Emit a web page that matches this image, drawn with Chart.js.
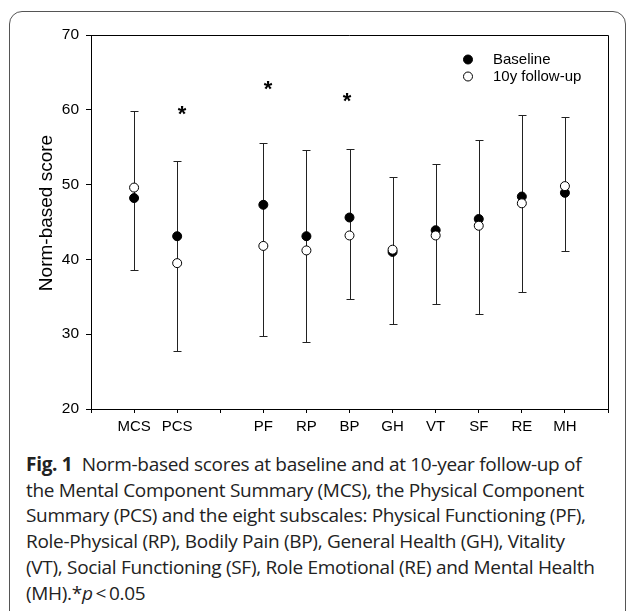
<!DOCTYPE html>
<html>
<head>
<meta charset="utf-8">
<script src="https://cdn.jsdelivr.net/npm/chart.js@4/dist/chart.umd.min.js"></script>
<style>
    body { margin: 0; background: #fff; width: 630px; height: 611px; overflow: hidden; position: relative; }
    .frame { position: absolute; left: 9px; top: 11px; width: 617px; height: 630px; border: 1px solid #555; border-radius: 13px; box-sizing: border-box; }
    #chart { position: absolute; left: 0; top: 0; }
    .caption { position: absolute; left: 26px; top: 452px; font-family: 'Open Sans', sans-serif; font-size: 19px; line-height: 25.7px; color: #222; letter-spacing: -0.3px; white-space: nowrap; }
    .caption b { font-weight: 700; }
</style>
</head>
<body>
<div class="frame"></div>
<canvas id="chart" width="630" height="445"></canvas>
<div class="caption">
    <b>Fig. 1</b>&nbsp; Norm-based scores at baseline and at 10-year follow-up of<br>
    the Mental Component Summary (MCS), the Physical Component<br>
    Summary (PCS) and the eight subscales: Physical Functioning (PF),<br>
    Role-Physical (RP), Bodily Pain (BP), General Health (GH), Vitality<br>
    (VT), Social Functioning (SF), Role Emotional (RE) and Mental Health<br>
    (MH).*<i>p</i>&thinsp;&lt;&thinsp;0.05
</div>
<script>
// scale values
const labels = ['MCS', 'PCS', 'PF', 'RP', 'BP', 'GH', 'VT', 'SF', 'RE', 'MH'];
const xPositions = [1, 2, 4, 5, 6, 7, 8, 9, 10, 11];
const baseline = [48.2, 43.1, 47.3, 43.1, 45.6, 41.0, 43.9, 45.4, 48.4, 48.9];
const followUp = [49.6, 39.5, 41.8, 41.2, 43.2, 41.3, 43.2, 44.5, 47.5, 49.8];
const barHigh = [59.8, 53.1, 55.6, 54.6, 54.8, 51.0, 52.8, 55.9, 59.3, 59.1];
const barLow = [38.6, 27.8, 29.8, 28.9, 34.7, 31.3, 34.1, 32.7, 35.6, 41.1];
const yTicks = [20, 30, 40, 50, 60, 70];
const xTicks = [0, 1, 2, 3, 4, 5, 6, 7, 8, 9, 10, 11, 12];

// significance markers (*)
const sigX = [2.11, 4.11, 5.94];
const sigY = [60.1, 63.5, 61.8];

const FONT = "'Liberation Sans', Arial, sans-serif";

function labelAt(v) {
    const i = xPositions.indexOf(v);
    return i >= 0 ? labels[i] : '';
}

const whiskers = {
    id: 'whiskers',
    beforeDatasetsDraw(chart) {
        const { ctx, scales: { x, y } } = chart;
        ctx.save();
        ctx.strokeStyle = '#222';
        ctx.lineWidth = 1;
        xPositions.forEach((xv, i) => {
            const px = Math.round(x.getPixelForValue(xv)) + 0.5;
            const top = Math.round(y.getPixelForValue(barHigh[i])) + 0.5;
            const bot = Math.round(y.getPixelForValue(barLow[i])) + 0.5;
            ctx.beginPath();
            ctx.moveTo(px, top);
            ctx.lineTo(px, bot);
            ctx.moveTo(px - 4, top);
            ctx.lineTo(px + 4, top);
            ctx.moveTo(px - 4, bot);
            ctx.lineTo(px + 4, bot);
            ctx.stroke();
        });
        ctx.restore();
    }
};

const extras = {
    id: 'extras',
    afterDraw(chart) {
        const { ctx, chartArea: a, scales: { x, y } } = chart;
        ctx.save();

        // top and right side of the box
        ctx.strokeStyle = '#000';
        ctx.lineWidth = 1;
        ctx.beginPath();
        ctx.moveTo(a.left, a.top + 0.5);
        ctx.lineTo(a.right + 0.5, a.top + 0.5);
        ctx.lineTo(a.right + 0.5, a.bottom);
        ctx.stroke();

        // asterisks
        ctx.fillStyle = '#000';
        ctx.font = 'bold 22px ' + FONT;
        ctx.textAlign = 'center';
        ctx.textBaseline = 'alphabetic';
        sigX.forEach((sx, i) => {
            ctx.fillText('*', x.getPixelForValue(sx), y.getPixelForValue(sigY[i]) + 12);
        });

        // legend
        const items = [
            { text: 'Baseline', fill: '#000', y: 59.5 },
            { text: '10y follow-up', fill: '#fff', y: 76.5 }
        ];
        ctx.font = '15px ' + FONT;
        ctx.textAlign = 'left';
        ctx.textBaseline = 'middle';
        items.forEach(it => {
            ctx.beginPath();
            ctx.arc(468, it.y, 4.5, 0, Math.PI * 2);
            ctx.fillStyle = it.fill;
            ctx.fill();
            ctx.strokeStyle = '#000';
            ctx.stroke();
            ctx.fillStyle = '#000';
            ctx.fillText(it.text, 493, it.y);
        });

        // y axis title
        ctx.translate(47, 213);
        ctx.rotate(-Math.PI / 2);
        ctx.textAlign = 'center';
        ctx.font = '19px ' + FONT;
        ctx.fillText('Norm-based score', 0, 0);
        ctx.restore();
    }
};

const ctx = document.getElementById('chart').getContext('2d');
new Chart(ctx, {
    type: 'scatter',
    data: {
        datasets: [
            {
                label: 'Baseline',
                data: xPositions.map((xv, i) => ({ x: xv, y: baseline[i] })),
                pointRadius: 4.5,
                backgroundColor: '#000',
                borderColor: '#000',
                borderWidth: 1,
                order: 2
            },
            {
                label: '10y follow-up',
                data: xPositions.map((xv, i) => ({ x: xv, y: followUp[i] })),
                pointRadius: 4.5,
                backgroundColor: '#fff',
                borderColor: '#000',
                borderWidth: 1,
                order: 1
            }
        ]
    },
    options: {
        responsive: false,
        animation: false,
        layout: { padding: { top: 35, right: 22, left: 0, bottom: 0 } },
        plugins: { legend: { display: false }, tooltip: { enabled: false } },
        scales: {
            x: {
                type: 'linear',
                min: 0,
                max: 12,
                afterBuildTicks: s => { s.ticks = xTicks.map(v => ({ value: v })); },
                afterFit: s => { s.height = 36; },
                ticks: {
                    autoSkip: false,
                    maxRotation: 0,
                    padding: 5,
                    color: '#000',
                    font: { family: FONT, size: 15 },
                    callback: v => labelAt(v)
                },
                grid: { drawOnChartArea: false, tickLength: 4, color: '#000' },
                border: { color: '#000', width: 1 }
            },
            y: {
                min: 20,
                max: 70,
                afterBuildTicks: s => { s.ticks = yTicks.map(v => ({ value: v })); },
                afterFit: s => { s.width = 91; },
                ticks: {
                    padding: 7,
                    color: '#000',
                    font: { family: FONT, size: 15.5 }
                },
                grid: { drawOnChartArea: false, tickLength: 5, color: '#000' },
                border: { color: '#000', width: 1 }
            }
        }
    },
    plugins: [whiskers, extras]
});
</script>
</body>
</html>
